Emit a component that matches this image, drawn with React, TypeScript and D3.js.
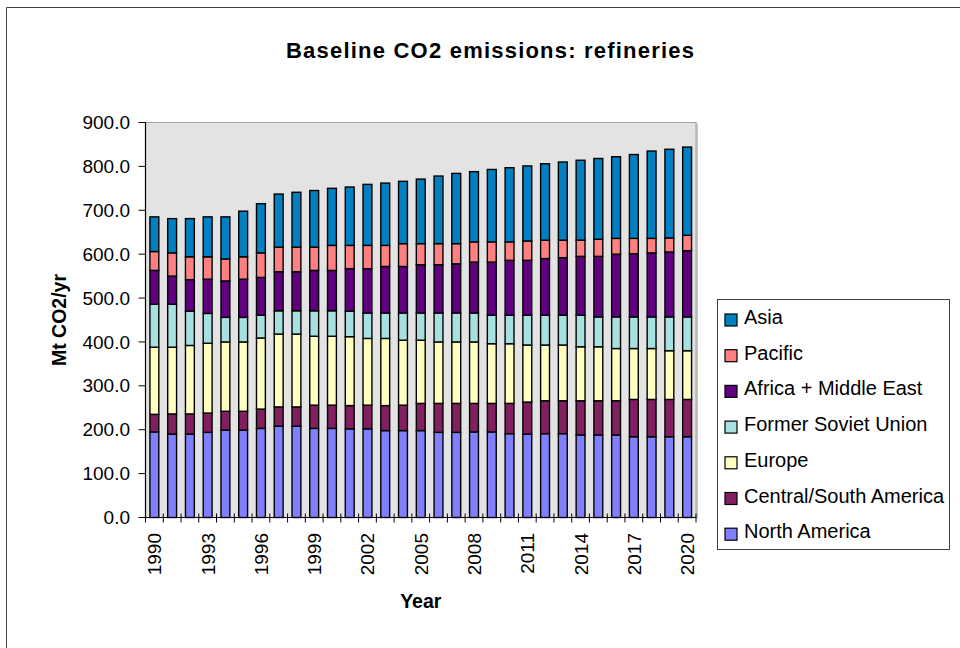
import React from 'react';
import * as d3 from 'd3';

// Years on the category axis
const years: number[] = [
  1990, 1991, 1992, 1993, 1994, 1995, 1996, 1997, 1998, 1999, 2000,
  2001, 2002, 2003, 2004, 2005, 2006, 2007, 2008, 2009, 2010,
  2011, 2012, 2013, 2014, 2015, 2016, 2017, 2018, 2019, 2020,
];

// Refinery CO2 emissions by region, Mt CO2/yr
const northAmerica = [195, 190, 190, 194, 199, 199, 203, 208, 208, 203, 203, 202, 202, 198, 198, 198, 194, 194, 195, 195, 191, 190, 191, 191, 188, 188, 188, 184, 184, 184, 184];
const centralSouthAmerica = [40, 46, 46, 44, 43, 43, 44, 44, 44, 53, 53, 53, 54, 57, 58, 62, 66, 66, 65, 65, 69, 73, 75, 75, 78, 78, 78, 85, 85, 85, 85];
const europe = [153, 152, 156, 159, 158, 158, 162, 166, 166, 157, 157, 157, 152, 153, 148, 144, 140, 140, 140, 136, 136, 130, 127, 127, 123, 123, 119, 116, 116, 111, 111];
const formerSovietUnion = [98, 98, 78, 68, 56, 56, 52, 53, 53, 58, 58, 58, 58, 58, 62, 62, 66, 66, 66, 65, 65, 68, 68, 68, 72, 68, 72, 72, 72, 77, 77];
const africaMiddleEast = [77, 64, 72, 78, 83, 87, 86, 89, 89, 92, 92, 97, 101, 106, 106, 110, 110, 112, 116, 121, 125, 125, 129, 131, 134, 138, 143, 144, 146, 148, 151];
const pacific = [43, 53, 52, 51, 50, 51, 56, 56, 56, 53, 57, 53, 53, 48, 52, 48, 48, 46, 46, 46, 42, 44, 42, 40, 37, 39, 36, 35, 33, 32, 35];
const asia = [79, 78, 87, 91, 96, 104, 112, 121, 125, 129, 130, 133, 139, 142, 142, 147, 154, 160, 160, 165, 169, 171, 174, 178, 182, 184, 186, 191, 199, 202, 201];

// Series in stacking order (bottom to top)
const seriesNames = ['North America', 'Central/South America', 'Europe', 'Former Soviet Union', 'Africa + Middle East', 'Pacific', 'Asia'];
const seriesValues = [northAmerica, centralSouthAmerica, europe, formerSovietUnion, africaMiddleEast, pacific, asia];
const seriesColors = ['#8080FF', '#802060', '#FFFFC0', '#A6E0E0', '#600080', '#FF8080', '#0080C0'];

const yTicks = [0, 100, 200, 300, 400, 500, 600, 700, 800, 900];
const xTickLabels = [1990, 1993, 1996, 1999, 2002, 2005, 2008, 2011, 2014, 2017, 2020];

const FONT = '"Liberation Sans", Arial, sans-serif';

export default function App() {
  const left = 145.5;
  const right = 696;
  const top = 122.5;
  const bottom = 517.5;

  const rows = years.map((yr, i) => {
    const r: Record<string, number> = { year: yr };
    seriesNames.forEach((n, k) => (r[n] = seriesValues[k][i]));
    return r;
  });
  const stacked = d3.stack<Record<string, number>>().keys(seriesNames)(rows);

  const x = d3.scaleBand<number>().domain(years).range([left, right]).paddingInner(0.5).paddingOuter(0.25);
  const y = d3.scaleLinear().domain([0, 900]).range([bottom, top]);
  const bw = x.bandwidth();
  const step = x.step();

  const boundaries = years.map((yr) => (x(yr) as number) + bw / 2 - step / 2);
  boundaries.push(right);

  const legendOrder = [...seriesNames.keys()].reverse();
  const fmt = d3.format('.1f');

  return (
    <svg width={960} height={648} style={{ position: 'absolute', left: 0, top: 0, background: '#fff' }} fontFamily={FONT}>
      {/* chart frame */}
      <path d="M6.5,1000 V7.5 H1000" fill="none" stroke="#404040" strokeWidth={1} />

      <text x={490} y={58} textAnchor="middle" fontSize={22} fontWeight="bold" textLength={408} lengthAdjust="spacing">
        Baseline CO2 emissions: refineries
      </text>

      {/* plot area */}
      <rect x={left} y={top} width={right - left} height={bottom - top} fill="#E3E3E3" stroke="#A0A0A0" strokeWidth={1} />
      <line x1={right + 1} x2={right + 1} y1={top + 1} y2={bottom + 1} stroke="#B0B0B0" strokeWidth={1.5} />

      {/* stacked bars */}
      {stacked.map((s, k) => (
        <g key={seriesNames[k]} fill={seriesColors[k]}>
          {s.map((d, i) => (
            <rect
              key={years[i]}
              x={x(years[i]) as number}
              y={y(d[1])}
              width={bw}
              height={y(d[0]) - y(d[1])}
              stroke="#000"
              strokeWidth={1.4}
            />
          ))}
        </g>
      ))}

      {/* y axis */}
      <line x1={left} x2={left} y1={top} y2={bottom} stroke="#000" strokeWidth={1.2} />
      {yTicks.map((t) => (
        <g key={t}>
          <line x1={left - 7} x2={left} y1={y(t)} y2={y(t)} stroke="#000" strokeWidth={1} />
          <text x={130} y={y(t)} dy="0.35em" textAnchor="end" fontSize={19}>
            {fmt(t)}
          </text>
        </g>
      ))}
      <text transform={`translate(66,${(top + bottom) / 2}) rotate(-90)`} textAnchor="middle" fontSize={19.5} fontWeight="bold">
        Mt CO2/yr
      </text>

      {/* x axis */}
      <line x1={left} x2={right} y1={bottom} y2={bottom} stroke="#000" strokeWidth={1.2} />
      {boundaries.map((b, i) => (
        <line key={i} x1={b} x2={b} y1={bottom - 4} y2={bottom + 5} stroke="#000" strokeWidth={1} />
      ))}
      {xTickLabels.map((yr) => {
        const cx = (x(yr) as number) + bw / 2;
        return (
          <text key={yr} transform={`translate(${cx + 7},533) rotate(-90)`} textAnchor="end" fontSize={19}>
            {yr}
          </text>
        );
      })}
      <text x={(left + right) / 2} y={608} textAnchor="middle" fontSize={19.5} fontWeight="bold">
        Year
      </text>

      {/* legend */}
      <rect x={717.5} y={299.5} width={232} height={250} fill="#fff" stroke="#404040" strokeWidth={1} />
      {legendOrder.map((k, j) => {
        const cy = 317 + j * 35.7;
        return (
          <g key={seriesNames[k]}>
            <rect x={725} y={cy - 3} width={12} height={12} fill={seriesColors[k]} stroke="#000" strokeWidth={1.2} />
            <text x={744} y={cy} dy="0.35em" fontSize={20}>
              {seriesNames[k]}
            </text>
          </g>
        );
      })}
    </svg>
  );
}
